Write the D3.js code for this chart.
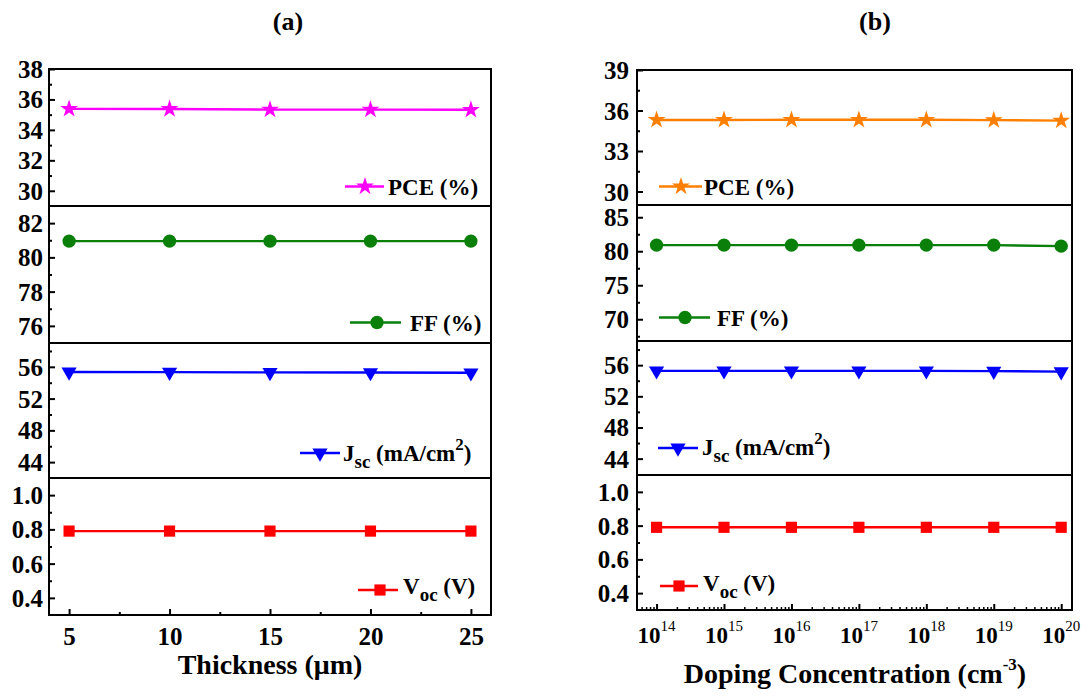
<!DOCTYPE html>
<html>
<head>
<meta charset="utf-8">
<script src="https://cdn.jsdelivr.net/npm/d3@7"></script>
<style>
  html, body { margin: 0; padding: 0; background: #fff; }
  svg { display: block; }
</style>
</head>
<body>
<svg id="chart" width="1086" height="696"></svg>
<script>
// ---------------- DATA ----------------
const thickness = [5, 10, 15, 20, 25];
const pceA = [35.38, 35.37, 35.33, 35.33, 35.32];
const ffA  = [80.95, 80.95, 80.95, 80.95, 80.95];
const jscA = [55.35, 55.33, 55.30, 55.28, 55.25];
const vocA = [0.79, 0.79, 0.79, 0.79, 0.79];

const doping = [1e14, 1e15, 1e16, 1e17, 1e18, 1e19, 1e20];
const pceB = [35.30, 35.30, 35.31, 35.31, 35.31, 35.29, 35.25];
const ffB  = [80.90, 80.90, 80.90, 80.90, 80.90, 80.90, 80.75];
const jscB = [55.27, 55.27, 55.27, 55.27, 55.27, 55.23, 55.17];
const vocB = [0.79, 0.79, 0.79, 0.79, 0.79, 0.79, 0.79];

const thicknessTicks = [5, 10, 15, 20, 25];
const thicknessMinor = [7.5, 12.5, 17.5, 22.5];
const dopingExponents = [14, 15, 16, 17, 18, 19, 20];

const pceTicksA = [30, 32, 34, 36, 38], pceMinorA = [31, 33, 35, 37];
const ffTicksA  = [76, 78, 80, 82],     ffMinorA  = [77, 79, 81];
const jscTicksA = [44, 48, 52, 56],     jscMinorA = [46, 50, 54, 58];
const vocTicks  = [0.4, 0.6, 0.8, 1.0], vocMinor  = [0.5, 0.7, 0.9];
const pceTicksB = [30, 33, 36, 39],     pceMinorB = [31.5, 34.5, 37.5];
const ffTicksB  = [70, 75, 80, 85],     ffMinorB  = [67.5, 72.5, 77.5, 82.5];
const jscTicksB = [44, 48, 52, 56],     jscMinorB = [46, 50, 54, 58];

// ---------------- LAYOUT ----------------
const FAMILY = '"Liberation Serif", "DejaVu Serif", serif';
const svg = d3.select("#chart");
const FONT_TICK = 25, FONT_LEG = 23, FONT_TITLE = 28;

function drawSubPanel(g, cfg) {
  const y = d3.scaleLinear().domain(cfg.yDomain).range([cfg.bottom, cfg.top]);
  const ya = g.append("g").attr("transform", `translate(${cfg.left},0)`)
    .call(d3.axisLeft(y).tickValues(cfg.ticks).tickFormat(cfg.fmt).tickSizeInner(-6).tickSizeOuter(0).tickPadding(cfg.pad));
  ya.select(".domain").remove();
  ya.selectAll("line").attr("stroke", "#000").attr("stroke-width", 2);
  ya.selectAll("text").style("font-size", FONT_TICK + "px").attr("dy", "0.34em");
  const ym = g.append("g").attr("transform", `translate(${cfg.left},0)`)
    .call(d3.axisLeft(y).tickValues(cfg.minor).tickFormat("").tickSizeInner(-3).tickSizeOuter(0));
  ym.select(".domain").remove();
  ym.selectAll("line").attr("stroke", "#000").attr("stroke-width", 2);

  const line = d3.line().x((d, i) => cfg.x(cfg.xs[i])).y(d => y(d));
  g.append("path").datum(cfg.values).attr("d", line)
    .attr("fill", "none").attr("stroke", cfg.color).attr("stroke-width", 2.4);
  g.selectAll(null).data(cfg.values).enter().append("path")
    .attr("d", d3.symbol().type(cfg.symbol.type).size(cfg.symbol.size))
    .attr("transform", (d, i) => `translate(${cfg.x(cfg.xs[i])},${y(d)}) rotate(${cfg.symbol.rot || 0})`)
    .attr("fill", cfg.color);

  const L = cfg.legend;
  g.append("line").attr("x1", L.x1).attr("x2", L.x2).attr("y1", L.ly).attr("y2", L.ly)
    .attr("stroke", cfg.color).attr("stroke-width", 2.4);
  g.append("path").attr("d", d3.symbol().type(cfg.symbol.type).size(cfg.symbol.size))
    .attr("transform", `translate(${L.mx},${L.ly}) rotate(${cfg.symbol.rot || 0})`)
    .attr("fill", cfg.color);
  const t = g.append("text").attr("x", L.tx).attr("y", L.ty).style("font-size", FONT_LEG + "px");
  L.parts.forEach(p => {
    const ts = t.append("tspan").text(p.t);
    if (p.sub) ts.attr("dy", 7).style("font-size", "19px");
    if (p.after) ts.attr("dy", p.after);
    if (p.sup) ts.attr("dy", -11).style("font-size", "17px");
  });

  g.append("rect").attr("x", cfg.left).attr("y", cfg.top)
    .attr("width", cfg.right - cfg.left).attr("height", cfg.bottom - cfg.top)
    .attr("fill", "none").attr("stroke", "#000").attr("stroke-width", 2);
  return y;
}

const pceLeg = [{t: "PCE (%)"}];
const ffLeg  = [{t: "FF (%)"}];
const jscLeg = [{t: "J"}, {t: "sc", sub: true}, {t: " (mA/cm", after: -7}, {t: "2", sup: true}, {t: ")", after: 11}];
const vocLeg = [{t: "V"}, {t: "oc", sub: true}, {t: " (V)", after: -7}];

const starSym = {type: d3.symbolStar, size: 100};
const circSym = {type: d3.symbolCircle, size: 140};
const triSym  = {type: d3.symbolTriangle, size: 100, rot: 180};
const sqSym   = {type: d3.symbolSquare, size: 125};

// ---------------- PANEL (a) ----------------
(function () {
  const left = 49, right = 491;
  const tops = [69, 206, 343, 478], bottom = 615;
  const x = d3.scaleLinear().domain([4, 26]).range([left, right]);
  const g = svg.append("g");
  const fmt0 = d3.format("d"), fmt1 = d3.format(".1f");
  drawSubPanel(g, {x, xs: thickness, left, right, top: tops[0], bottom: tops[1], yDomain: [29, 38],
    ticks: pceTicksA, minor: pceMinorA, fmt: fmt0, pad: 6, values: pceA, color: "#ff00ff", symbol: starSym,
    legend: {x1: 345, x2: 384, mx: 365, ly: 186.5, tx: 388, ty: 195, parts: pceLeg}});
  drawSubPanel(g, {x, xs: thickness, left, right, top: tops[1], bottom: tops[2], yDomain: [75, 83],
    ticks: ffTicksA, minor: ffMinorA, fmt: fmt0, pad: 6, values: ffA, color: "#0a800a", symbol: circSym,
    legend: {x1: 350, x2: 401, mx: 377, ly: 322.5, tx: 410, ty: 331, parts: ffLeg}});
  drawSubPanel(g, {x, xs: thickness, left, right, top: tops[2], bottom: tops[3], yDomain: [42, 59],
    ticks: jscTicksA, minor: jscMinorA, fmt: fmt0, pad: 6, values: jscA, color: "#0000ff", symbol: triSym,
    legend: {x1: 300, x2: 340, mx: 320, ly: 453, tx: 343, ty: 461, parts: jscLeg}});
  drawSubPanel(g, {x, xs: thickness, left, right, top: tops[3], bottom: bottom, yDomain: [0.3, 1.1],
    ticks: vocTicks, minor: vocMinor, fmt: fmt1, pad: 6, values: vocA, color: "#ff0000", symbol: sqSym,
    legend: {x1: 358, x2: 398, mx: 380, ly: 590, tx: 403, ty: 594, parts: vocLeg}});

  const xa = g.append("g").attr("transform", `translate(0,${bottom})`)
    .call(d3.axisBottom(x).tickValues(thicknessTicks).tickFormat(d3.format("d")).tickSizeInner(-6).tickSizeOuter(0).tickPadding(12));
  xa.select(".domain").remove();
  xa.selectAll("line").attr("stroke", "#000").attr("stroke-width", 2);
  xa.selectAll("text").style("font-size", FONT_TICK + "px");
  const xm = g.append("g").attr("transform", `translate(0,${bottom})`)
    .call(d3.axisBottom(x).tickValues(thicknessMinor).tickFormat("").tickSizeInner(-3).tickSizeOuter(0));
  xm.select(".domain").remove();
  xm.selectAll("line").attr("stroke", "#000").attr("stroke-width", 2);

  g.append("text").attr("x", 270).attr("y", 674).attr("text-anchor", "middle")
    .style("font-size", FONT_TITLE + "px").text("Thickness (μm)");
  g.append("text").attr("x", 288).attr("y", 30).attr("text-anchor", "middle")
    .style("font-size", "26px").text("(a)");
})();

// ---------------- PANEL (b) ----------------
(function () {
  const left = 637, right = 1072;
  const tops = [70, 205, 341, 475], bottom = 610;
  const x = d3.scaleLog().domain([Math.pow(10, 13.71), Math.pow(10, 20.16)]).range([left, right]);
  const g = svg.append("g");
  const fmt0 = d3.format("d"), fmt1 = d3.format(".1f");
  drawSubPanel(g, {x, xs: doping, left, right, top: tops[0], bottom: tops[1], yDomain: [29, 39],
    ticks: pceTicksB, minor: pceMinorB, fmt: fmt0, pad: 8, values: pceB, color: "#ff8000", symbol: starSym,
    legend: {x1: 659, x2: 702, mx: 681, ly: 186.5, tx: 704, ty: 195, parts: pceLeg}});
  drawSubPanel(g, {x, xs: doping, left, right, top: tops[1], bottom: tops[2], yDomain: [66.8, 86.8],
    ticks: ffTicksB, minor: ffMinorB, fmt: fmt0, pad: 8, values: ffB, color: "#0a800a", symbol: circSym,
    legend: {x1: 659, x2: 710, mx: 685, ly: 317.5, tx: 717, ty: 326, parts: ffLeg}});
  drawSubPanel(g, {x, xs: doping, left, right, top: tops[2], bottom: tops[3], yDomain: [41.9, 59.1],
    ticks: jscTicksB, minor: jscMinorB, fmt: fmt0, pad: 8, values: jscB, color: "#0000ff", symbol: triSym,
    legend: {x1: 658, x2: 698, mx: 678, ly: 448, tx: 702, ty: 455, parts: jscLeg}});
  drawSubPanel(g, {x, xs: doping, left, right, top: tops[3], bottom: bottom, yDomain: [0.3, 1.1],
    ticks: vocTicks, minor: vocMinor, fmt: fmt1, pad: 8, values: vocB, color: "#ff0000", symbol: sqSym,
    legend: {x1: 660, x2: 698, mx: 679, ly: 586, tx: 703, ty: 591, parts: vocLeg}});

  const majors = dopingExponents.map(e => Math.pow(10, e));
  const minors = [];
  for (let e = 13; e <= 20; e++) for (let m = 2; m <= 9; m++) {
    const v = m * Math.pow(10, e);
    if (v > x.domain()[0] && v < x.domain()[1]) minors.push(v);
  }
  const xa = g.append("g").attr("transform", `translate(0,${bottom})`)
    .call(d3.axisBottom(x).tickValues(majors).tickFormat("").tickSizeInner(-6).tickSizeOuter(0));
  xa.select(".domain").remove();
  xa.selectAll("line").attr("stroke", "#000").attr("stroke-width", 2);
  const xm = g.append("g").attr("transform", `translate(0,${bottom})`)
    .call(d3.axisBottom(x).tickValues(minors).tickFormat("").tickSizeInner(-3).tickSizeOuter(0));
  xm.select(".domain").remove();
  xm.selectAll("line").attr("stroke", "#000").attr("stroke-width", 1.5);

  dopingExponents.forEach(e => {
    const t = g.append("text").attr("x", x(Math.pow(10, e))).attr("y", 643)
      .attr("text-anchor", "middle").style("font-size", "23px");
    t.append("tspan").text("10");
    t.append("tspan").attr("dy", -12).style("font-size", "15px").style("font-weight", "normal").text(String(e));
  });

  const tt = g.append("text").attr("x", 855).attr("y", 683).attr("text-anchor", "middle")
    .style("font-size", FONT_TITLE + "px");
  tt.append("tspan").text("Doping Concentration (cm");
  tt.append("tspan").attr("dy", -13).style("font-size", "17px").text("-3");
  tt.append("tspan").attr("dy", 13).text(")");

  g.append("text").attr("x", 875).attr("y", 30).attr("text-anchor", "middle")
    .style("font-size", "26px").text("(b)");
})();

svg.selectAll("text").style("font-family", FAMILY).style("fill", "#000");
svg.selectAll("text").filter(function () { return !this.style.fontWeight; }).style("font-weight", "bold");
</script>
</body>
</html>
